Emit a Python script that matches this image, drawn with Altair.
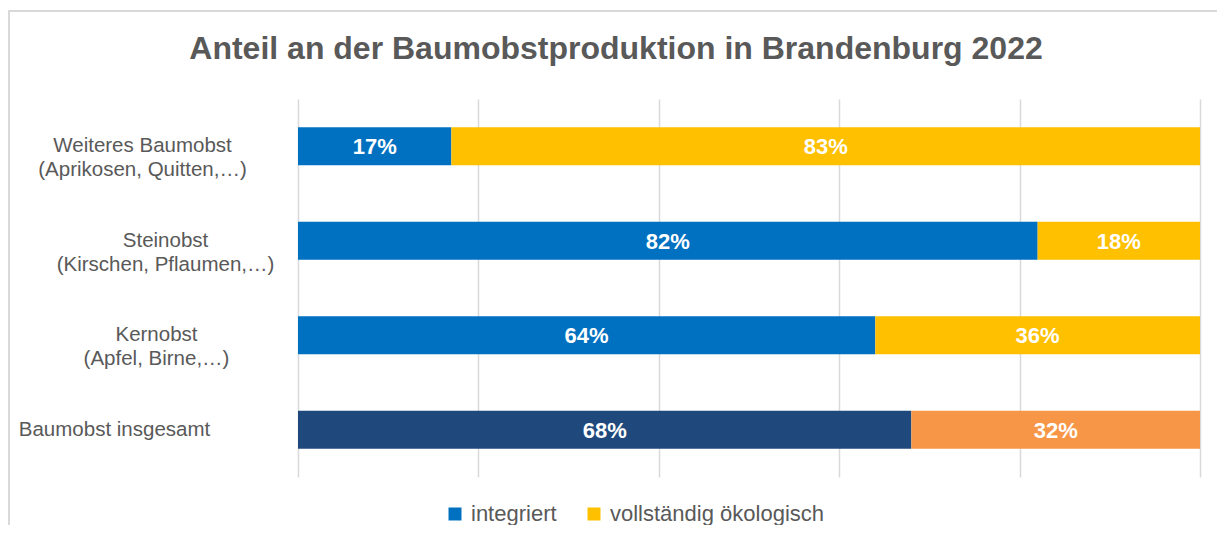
import altair as alt
import pandas as pd

# ---- data -------------------------------------------------------------
kategorien = [
    "Weiteres Baumobst\n(Aprikosen, Quitten,…)",
    "Steinobst\n(Kirschen, Pflaumen,…)",
    "Kernobst\n(Apfel, Birne,…)",
    "Baumobst insgesamt",
]
integriert = [17, 82, 64, 68]
oekologisch = [83, 18, 36, 32]

serien = ["integriert", "vollständig ökologisch",
          "integriert (insgesamt)", "vollständig ökologisch (insgesamt)"]
farben = ["#0070C0", "#FFC000", "#1F497D", "#F79646"]

rows = []
for i, k in enumerate(kategorien):
    gesamt = k == "Baumobst insgesamt"
    rows.append({"kategorie": k, "wert": integriert[i], "ord": 0,
                 "serie": serien[2] if gesamt else serien[0]})
    rows.append({"kategorie": k, "wert": oekologisch[i], "ord": 1,
                 "serie": serien[3] if gesamt else serien[1]})
df = pd.DataFrame(rows)

FONT = "Liberation Sans"
GREY = "#595959"

# ---- chart ------------------------------------------------------------
base = alt.Chart(df).transform_stack(
    stack="wert", groupby=["kategorie"], sort=[{"field": "ord"}],
    as_=["x0", "x1"]
).transform_calculate(mid="(datum.x0 + datum.x1) / 2",
                      txt="datum.wert + '%'")

pad_expr = (
    "datum.value == 'Baumobst insgesamt' ? 184 : "
    "indexof(datum.value, 'Steinobst') == 0 ? 133 : "
    "indexof(datum.value, 'Kernobst') == 0 ? 142 : 156"
)

y_enc = alt.Y(
    "kategorie:N", sort=kategorien, title=None,
    axis=alt.Axis(
        labelExpr="split(datum.label, '\\n')",
        labelAlign="center", labelBaseline="middle",
        labelPadding=alt.ExprRef(expr=pad_expr),
        labelFont=FONT, labelFontSize=20.5, labelColor=GREY,
        labelLineHeight=24, labelLimit=400,
        ticks=False, domain=False, grid=False,
    ),
)

bars = base.mark_bar(size=38).encode(
    x=alt.X("x0:Q", scale=alt.Scale(domain=[0, 100], nice=False),
            title=None,
            axis=alt.Axis(values=[0, 20, 40, 60, 80, 100], labels=False,
                          ticks=False, domain=False, grid=True,
                          gridColor="#D9D9D9", gridWidth=1.5)),
    x2="x1:Q",
    y=y_enc,
    color=alt.Color(
        "serie:N",
        scale=alt.Scale(domain=serien, range=farben),
        legend=alt.Legend(
            values=serien[:2], title=None, orient="none",
            legendX=146, legendY=404, direction="horizontal",
            symbolType="square", symbolSize=169, symbolStrokeWidth=0,
            labelFont=FONT, labelFontSize=22, labelColor=GREY,
            labelOffset=5, columnPadding=26, padding=0, labelLimit=500,
        ),
    ),
)

labels = base.mark_text(
    font=FONT, fontSize=22, fontWeight="bold", color="white",
    align="center", baseline="middle", dy=1,
).encode(
    x="mid:Q",
    y=alt.Y("kategorie:N", sort=kategorien),
    text="txt:N",
)

rahmen = alt.Chart(df).mark_rect(
    fill=None, stroke="#D9D9D9", strokeWidth=1.5
).encode(
    x=alt.value(-289), x2=alt.value(1400),
    y=alt.value(-88), y2=alt.value(900),
)

chart = alt.layer(rahmen, bars, labels).properties(
    width=902, height=378,
    autosize=alt.AutoSizeParams(type="none"),
    padding={"left": 290, "top": 91, "right": 17, "bottom": 48},
    title=alt.TitleParams(
        "Anteil an der Baumobstproduktion in Brandenburg 2022",
        font=FONT, fontSize=32, fontWeight="bold", color=GREY,
        anchor="middle", dx=-133, offset=0, baseline="alphabetic", dy=81,
    ),
).configure_view(stroke=None)

chart.save("out.html", embed_options={"renderer": "svg", "actions": False})
